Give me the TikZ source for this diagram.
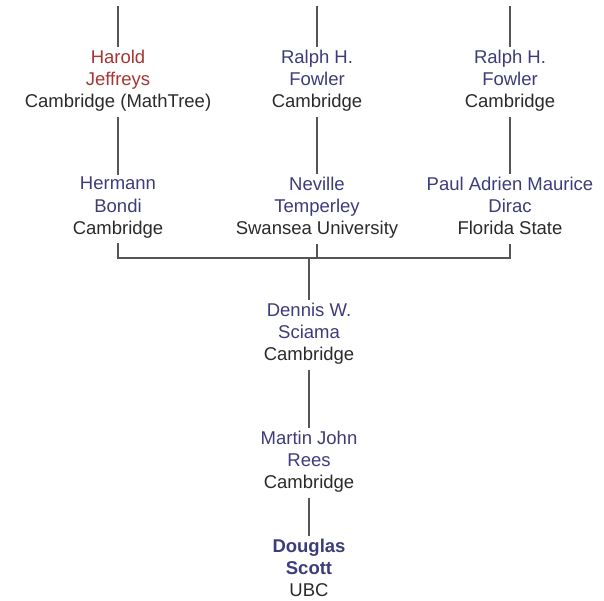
\documentclass[tikz,border=0pt]{standalone}
\usepackage{fontspec}
\setmainfont{Liberation Sans}
\usepackage{tikz}
\usetikzlibrary{calc}

\definecolor{namecol}{HTML}{3C3C7A}
\definecolor{redname}{HTML}{A83434}
\definecolor{placecol}{HTML}{2A2A2A}
\definecolor{edgecol}{HTML}{555555}

\newcommand{\nm}[1]{\textcolor{namecol}{#1}}
\newcommand{\rnm}[1]{\textcolor{redname}{#1}}

\begin{document}
\begin{tikzpicture}[x=1pt,y=-1pt,
  person/.style={align=center,inner sep=2pt,text=placecol,
    font=\fontsize{18.5}{22.3}\selectfont,
    execute at begin node=\strut,execute at end node=\strut},
  edge/.style={draw=edgecol,line width=1.2pt}]
  \useasboundingbox (0,0) rectangle (604,601);

  \node [person] (jeffreys) at (118,82) {\rnm{Harold}\\ \rnm{Jeffreys}\\ Cambridge (MathTree)};
  \node [person] (fowlerA) at (317,82) {\nm{Ralph H.}\\ \nm{Fowler}\\ Cambridge};
  \node [person] (fowlerB) at (510,82) {\nm{Ralph H.}\\ \nm{Fowler}\\ Cambridge};

  \node [person] (bondi) at (118,209) {\nm{Hermann}\\ \nm{Bondi}\\ Cambridge};
  \node [person] (temperley) at (317,209) {\nm{Neville}\\ \nm{Temperley}\\ Swansea University};
  \node [person] (dirac) at (510,209) {\nm{Paul Adrien Maurice}\\ \nm{Dirac}\\ Florida State};

  \node [person] (sciama) at (309,335) {\nm{Dennis W.}\\ \nm{Sciama}\\ Cambridge};
  \node [person] (rees) at (309,463) {\nm{Martin John}\\ \nm{Rees}\\ Cambridge};
  \node [person] (scott) at (309,571) {\nm{\textbf{Douglas}}\\ \nm{\textbf{Scott}}\\ UBC};

  \coordinate (topA) at (118,6);
  \coordinate (topB) at (317,6);
  \coordinate (topC) at (510,6);
  \coordinate (jct) at (309,258);

  \draw [edge] (topA) -- (jeffreys.north);
  \draw [edge] (topB) -- (fowlerA.north);
  \draw [edge] (topC) -- (fowlerB.north);

  \draw [edge] (jeffreys) -- (bondi);
  \draw [edge] (fowlerA) -- (temperley);
  \draw [edge] (fowlerB) -- (dirac);

  \draw [edge] (bondi.south) |- (jct) -| (dirac.south);
  \draw [edge] (temperley.south) -- (temperley.south |- jct);
  \draw [edge] (jct) -- (sciama.north);

  \draw [edge] (sciama) -- (rees);
  \draw [edge] (rees) -- (scott);
\end{tikzpicture}
\end{document}
